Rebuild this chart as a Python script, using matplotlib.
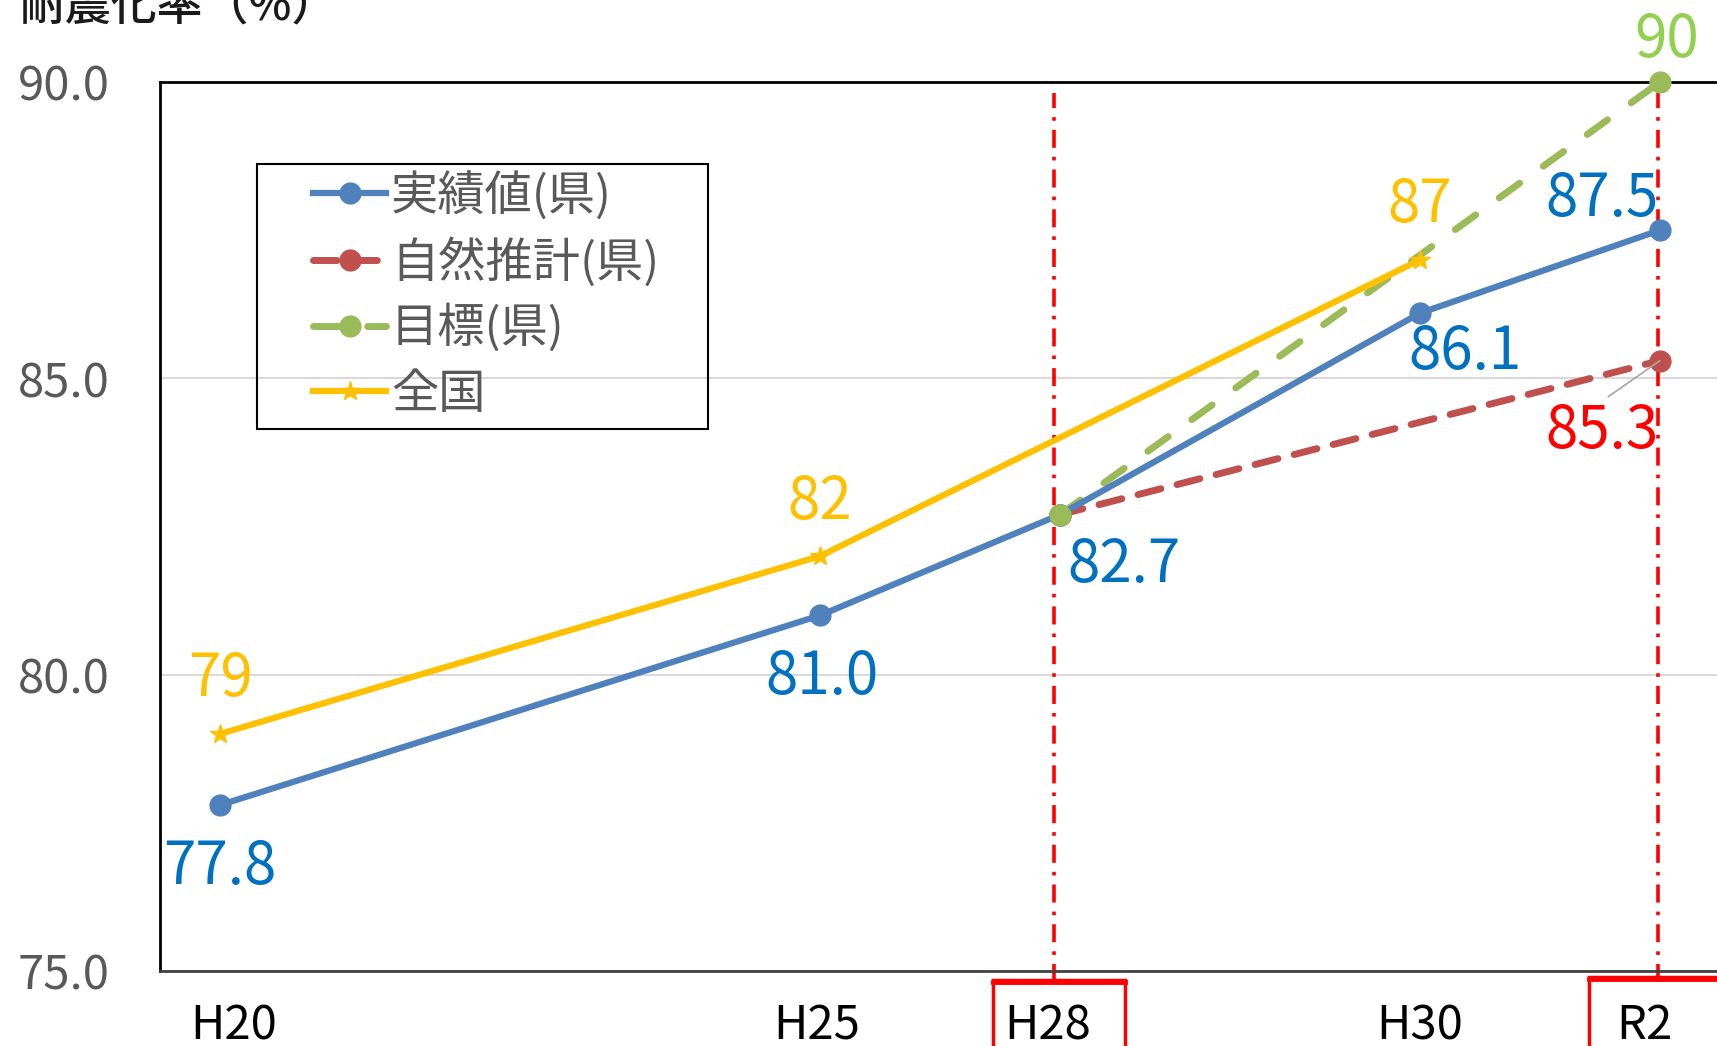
import matplotlib
matplotlib.use("Agg")
import matplotlib.pyplot as plt
from matplotlib.patches import Rectangle
from matplotlib.lines import Line2D
from matplotlib.transforms import ScaledTranslation

plt.rcParams['font.family'] = ['Noto Sans CJK JP', 'DejaVu Sans']

# data
categories = ['H20', 'H25', 'H28', 'H30', 'R2']
cat_pos = [0, 5, 7, 10, 12]          # spacing of the original category axis

actual = [77.8, 81.0, 82.7, 86.1, 87.5]          # 実績値(県)
natural_x = ['H28', 'R2']
natural = [82.7, 85.3]                             # 自然推計(県)
target_x = ['H28', 'R2']
target = [82.7, 90.0]                              # 目標(県)
nation_x = ['H20', 'H25', 'H30']
nation = [79, 82, 87]                              # 全国

actual_labels = ['77.8', '81.0', '82.7', '86.1', '87.5']
nation_labels = ['79', '82', '87']

W, H = 1717, 1046
pos = dict(zip(categories, cat_pos))

fig = plt.figure(figsize=(W / 100, H / 100), dpi=100)
ax = fig.add_axes([160 / W, 75 / H, (1720 - 160) / W, (971 - 82) / H])
ax.set_xlim(-0.5, 12.5)
ax.set_ylim(75, 90)

c_blue, c_red, c_green, c_yel = '#4F81BD', '#C0504D', '#9BBB59', '#FFC000'

ax.yaxis.grid(True, color='#D9D9D9', lw=1.5)
ax.set_axisbelow(True)

# red reference lines at H28 / R2
for c, dx in [('H28', -6), ('R2', -2)]:
    vl = ax.axvline(pos[c], ymin=-0.012, ymax=0.988, color='#FF0000', lw=2.6,
                    ls=(0, (5, 2.5, 1, 2.5)), clip_on=False, zorder=1)
    vl.set_transform(vl.get_transform() +
                     ScaledTranslation(dx / 100, 0, fig.dpi_scale_trans))

l_nat, = ax.plot([pos[c] for c in natural_x], natural, color=c_red, lw=5,
                 ls=(0, (3.4, 2.4)), dash_capstyle='round', marker='o',
                 ms=15, label='自然推計(県)', zorder=3, clip_on=False)
l_tgt, = ax.plot([pos[c] for c in target_x], target, color=c_green, lw=5,
                 ls=(0, (3.6, 4.2)), dash_capstyle='round', marker='o',
                 ms=15, label='目標(県)', zorder=4, clip_on=False)
l_act, = ax.plot(cat_pos, actual, color=c_blue, lw=4.5, marker='o', ms=15,
                 label='実績値(県)', zorder=5, clip_on=False)
l_nat2, = ax.plot([pos[c] for c in nation_x], nation, color=c_yel, lw=4.5,
                  marker='*', ms=15, label='全国', zorder=6)
# green point on H28 sits on top
ax.plot([pos['H28']], [target[0]], 'o', color=c_green, ms=15, zorder=7)

px = 72 / 100  # points per pixel

def label(x, y, s, dx, dy, color):
    ax.annotate(s, (x, y), xytext=(dx * px, dy * px), textcoords='offset points',
                ha='center', va='center', fontsize=42, color=color, zorder=8,
                annotation_clip=False)

act_off = [(0, -62), (2, -62), (64, -51), (45, -39), (-58, 31)]
for c, v, s, (dx, dy) in zip(categories, actual, actual_labels, act_off):
    label(pos[c], v, s, dx, dy, '#0070C0')

for c, v, s in zip(nation_x, nation, nation_labels):
    label(pos[c], v, s, 0, 54, c_yel)

label(pos['R2'], target[1], '90', 7, 42, '#92D050')

ax.annotate('85.3', (pos['R2'], natural[1]), xytext=(-58 * px, -71 * px),
            textcoords='offset points', ha='center', va='center', fontsize=42,
            color='#FF0000', zorder=8,
            arrowprops=dict(arrowstyle='-', color='#A6A6A6', lw=1.2,
                            relpos=(0.5, 1.0), shrinkA=2, shrinkB=0))

# axes styling
for s in ['left', 'top']:
    ax.spines[s].set_linewidth(2)
    ax.spines[s].set_color('black')
ax.spines['bottom'].set_color('#404040')
ax.spines['bottom'].set_linewidth(2)
ax.spines['right'].set_visible(False)

ax.set_yticks([75, 80, 85, 90])
ax.set_yticklabels(['75.0', '80.0', '85.0', '90.0'])
ax.tick_params(axis='y', length=0, pad=36, labelsize=34, labelcolor='#595959')
ax.set_xticks(cat_pos)
ax.set_xticklabels(categories)
ax.tick_params(axis='x', length=0, pad=22, labelsize=34, labelcolor='black')
shifts = [14, -3, -12, 0, -16]
for lab, dx in zip(ax.get_xticklabels(), shifts):
    lab.set_transform(lab.get_transform() +
                      ScaledTranslation(dx / 100, 0, fig.dpi_scale_trans))

# red boxes round H28 and R2 labels
for x0, x1, y0 in [(993, 1125, 980), (1589, 1760, 977)]:
    fig.add_artist(Rectangle((x0 / W, -0.05), (x1 - x0) / W, (H - y0) / H + 0.05,
                             transform=fig.transFigure, fill=False,
                             ec='#FF0000', lw=2.5))
    fig.add_artist(Line2D([x0 / W, x1 / W], [(H - y0 - 2) / H] * 2,
                          transform=fig.transFigure, color='#FF0000', lw=3.5))

# title (cut off at the top in the original)
fig.text(20 / W, 1 - 6 / H, '耐震化率（%）', fontsize=33, color='#1A1A1A',
         ha='left', va='center', fontweight='medium')

# legend: frameless, with a separate frame like the original
leg = ax.legend(handles=[l_act, l_nat, l_tgt, l_nat2], loc='upper left',
                bbox_to_anchor=(313 / W, 1 - 172 / H),
                bbox_transform=fig.transFigure, frameon=False, fontsize=34,
                borderpad=0, borderaxespad=0, handlelength=1.55,
                handletextpad=0.1, labelspacing=0.36, numpoints=1)
for t in leg.get_texts():
    t.set_color('#595959')
fig.add_artist(Rectangle((257 / W, 1 - 429 / H), (708 - 257) / W, (429 - 164) / H,
                         transform=fig.transFigure, fill=False, ec='black', lw=1.5,
                         zorder=2))

fig.savefig('out.png', dpi=100)
